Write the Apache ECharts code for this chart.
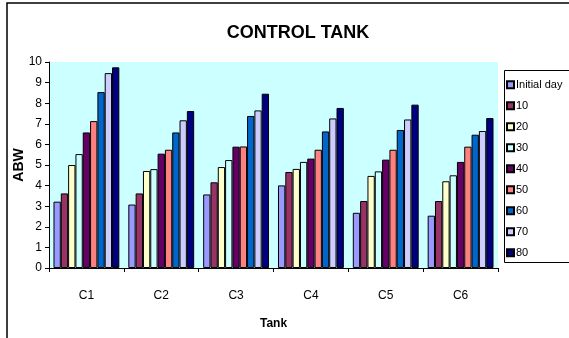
<!DOCTYPE html>
<html>
<head>
<meta charset="utf-8">
<script src="https://cdn.jsdelivr.net/npm/echarts@6/dist/echarts.min.js"></script>
<style>
  html, body { margin: 0; padding: 0; background: #fff; }
  #chart { width: 569px; height: 338px; }
</style>
</head>
<body>
<div id="chart"></div>
<script>
// Tanks on the x axis
const categories = ['C1', 'C2', 'C3', 'C4', 'C5', 'C6'];

// Sampling days (legend entries)
const seriesNames = ['Initial day', '10', '20', '30', '40', '50', '60', '70', '80'];

// ABW per tank for each sampling day
const initialDay = [3.22, 3.08, 3.57, 4.01, 2.68, 2.54];
const day10 = [3.62, 3.62, 4.16, 4.66, 3.25, 3.25];
const day20 = [5.00, 4.71, 4.90, 4.81, 4.47, 4.21];
const day30 = [5.53, 4.80, 5.24, 5.15, 4.69, 4.50];
const day40 = [6.58, 5.55, 5.89, 5.31, 5.26, 5.15];
const day50 = [7.13, 5.74, 5.90, 5.74, 5.74, 5.89];
const day60 = [8.54, 6.58, 7.38, 6.63, 6.70, 6.47];
const day70 = [9.46, 7.17, 7.65, 7.26, 7.21, 6.65];
const day80 = [9.74, 7.62, 8.46, 7.77, 7.93, 7.28];

const seriesValues = [initialDay, day10, day20, day30, day40, day50, day60, day70, day80];

// y axis ticks
const yTicks = [0, 1, 2, 3, 4, 5, 6, 7, 8, 9, 10];

const palette = ['#9999FF', '#993366', '#FFFFCC', '#CCFFFF', '#660066', '#FF8080', '#0066CC', '#CCCCFF', '#000080'];

const chart = echarts.init(document.getElementById('chart'), null, { renderer: 'canvas' });

const font = 'Arial, "Liberation Sans", sans-serif';

chart.setOption({
  animation: false,
  backgroundColor: '#ffffff',
  title: {
    text: 'CONTROL TANK',
    left: 293,
    top: 19,
    textAlign: 'center',
    textStyle: { fontFamily: font, fontSize: 18, fontWeight: 'bold', color: '#000' }
  },
  graphic: [
    {
      type: 'rect',
      shape: { x: 7, y: 3, width: 600, height: 400 },
      style: { fill: 'none', stroke: '#000', lineWidth: 1.5 },
      z: 0
    },
    {
      type: 'rect',
      shape: { x: 504.5, y: 70.5, width: 100, height: 192 },
      style: { fill: '#fff', stroke: '#000', lineWidth: 1 },
      z: 0
    }
  ],
  legend: {
    orient: 'vertical',
    left: 506,
    top: 79,
    itemWidth: 7,
    itemHeight: 7,
    itemGap: 9.6,
    padding: 0,
    icon: 'rect',
    z: 5,
    textStyle: { fontFamily: font, fontSize: 11, color: '#000', padding: [0, 0, 0, -3], lineHeight: 11.4 },
    data: seriesNames
  },
  grid: {
    left: 49,
    right: 71,
    top: 62,
    bottom: 70,
    show: true,
    backgroundColor: '#CCFFFF',
    borderWidth: 0
  },
  xAxis: {
    type: 'category',
    data: categories,
    name: 'Tank',
    nameLocation: 'middle',
    nameGap: 50,
    nameMoveOverlap: false,
    nameTextStyle: { fontFamily: font, fontSize: 12, fontWeight: 'bold', color: '#000' },
    axisLine: { lineStyle: { color: '#000', width: 1 } },
    axisTick: { show: true, alignWithLabel: false, length: 4, lineStyle: { color: '#000' } },
    axisLabel: { fontFamily: font, fontSize: 12, color: '#000', margin: 22 },
    splitLine: { show: false }
  },
  yAxis: {
    type: 'value',
    min: yTicks[0],
    max: yTicks[yTicks.length - 1],
    interval: 1,
    name: 'ABW',
    nameLocation: 'middle',
    nameGap: 23,
    nameMoveOverlap: false,
    nameRotate: 90,
    nameTextStyle: { fontFamily: font, fontSize: 14, fontWeight: 'bold', color: '#000' },
    axisLine: { show: true, lineStyle: { color: '#000', width: 1 } },
    axisTick: { show: true, length: 4, lineStyle: { color: '#000' } },
    axisLabel: { fontFamily: font, fontSize: 12, color: '#000', margin: 7 },
    splitLine: { show: false }
  },
  series: seriesNames.map((name, i) => ({
    name: name,
    type: 'bar',
    data: seriesValues[i],
    barGap: '0%',
    barCategoryGap: '12%',
    itemStyle: { color: palette[i], borderColor: '#000', borderWidth: 1 }
  }))
});
</script>
</body>
</html>
